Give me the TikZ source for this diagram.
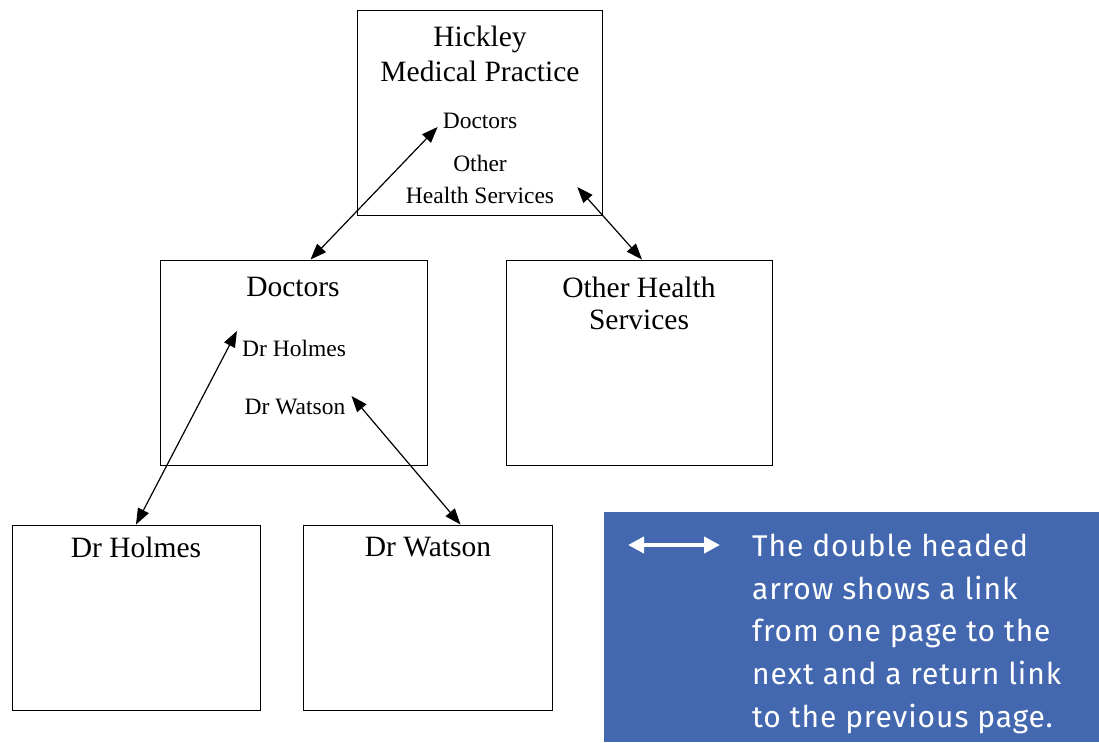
\documentclass[tikz,border=0pt]{standalone}
\usepackage{fontspec}
\setmainfont{Liberation Serif}
\newfontfamily\notefont[LetterSpace=3]{Fira Sans}
\usetikzlibrary{arrows.meta}
\definecolor{noteblue}{RGB}{67,104,176}
\begin{document}
\begin{tikzpicture}[x=1pt,y=-1pt,
  box/.style={draw=black,line width=1pt,inner sep=0pt},
  big/.style={font=\fontsize{29.5}{33}\selectfont,inner sep=0pt,anchor=center},
  small/.style={font=\fontsize{23.5}{32}\selectfont,inner sep=0pt,anchor=center},
  link/.style={line width=1.2pt,{Triangle[length=16pt,width=12pt]}-{Triangle[length=16pt,width=12pt]}},
  note/.style={font=\notefont\fontsize{30}{43}\selectfont,text=white,inner sep=0pt,anchor=base west}]
\useasboundingbox (0,0) rectangle (1099,742);
% boxes
\node[box,minimum width=245pt,minimum height=205pt] (hmp) at (479.5,112.5) {};
\node[box,minimum width=267pt,minimum height=205pt] (doc) at (293.5,362.5) {};
\node[box,minimum width=266pt,minimum height=205pt] (oth) at (639,362.5) {};
\node[box,minimum width=248pt,minimum height=185pt] (hol) at (136,617.5) {};
\node[box,minimum width=249pt,minimum height=185pt] (wat) at (427.5,617.5) {};
% texts
\node[big] (hmpA) at (480,39) {Hickley};
\node[big] (hmpB) at (480,71) {Medical Practice};
\node[small] (hmpDoc) at (480,121) {Doctors};
\node[small] (hmpO1) at (480,163) {Other};
\node[small] (hmpO2) at (480,195) {Health Services};
\node[big] (docT) at (293,287) {Doctors};
\node[small] (docH) at (294,348) {Dr Holmes};
\node[small] (docW) at (295,407) {Dr Watson};
\node[big] (othA) at (639,287) {Other Health};
\node[big] (othB) at (639,320) {Services};
\node[big] (holT) at (136,547) {Dr Holmes};
\node[big] (watT) at (428,547) {Dr Watson};
% connectors
\draw[link] ([xshift=-5pt,yshift=-6pt]hmpDoc.west) -- ([xshift=17pt]doc.north);
\draw[link] ([xshift=23pt,yshift=8pt]hmpO2.east) -- ([xshift=3pt]oth.north);
\draw[link] ([xshift=-5pt,yshift=17pt]docH.west) -- (hol.north);
\draw[link] ([xshift=6pt,yshift=11pt]docW.east) -- ([xshift=33pt]wat.north);
% legend
\node[fill=noteblue,inner sep=0pt,minimum width=495pt,minimum height=230pt] (legend) at (851.5,627) {};
\coordinate (la) at (628,545);
\coordinate (lb) at (720,545);
\draw[white,line width=4pt,{Triangle[length=16pt,width=16pt]}-{Triangle[length=16pt,width=16pt]}] (la) -- (lb);
\node[note] (n1) at (752,556) {The double headed};
\node[note] (n2) at (752,599) {arrow shows a link};
\node[note] (n3) at (752,641) {from one page to the};
\node[note] (n4) at (752,684) {next and a return link};
\node[note] (n5) at (752,727) {to the previous page.};
\end{tikzpicture}
\end{document}
